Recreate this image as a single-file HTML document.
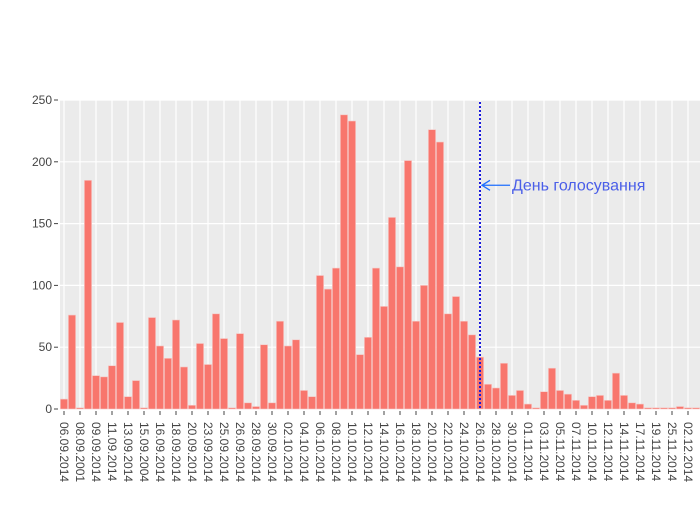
<!DOCTYPE html>
<html><head><meta charset="utf-8">
<style>
html,body{margin:0;padding:0;background:#fff;}
svg text{font-family:"Liberation Sans",sans-serif;}
</style></head>
<body>
<svg id="chart" width="700" height="500" xmlns="http://www.w3.org/2000/svg"></svg>
<script>
const labels = ["06.09.2014","08.09.2001","09.09.2014","11.09.2014","13.09.2014","15.09.2004","16.09.2014","18.09.2014","20.09.2014","23.09.2014","25.09.2014","26.09.2014","28.09.2014","30.09.2014","02.10.2014","04.10.2014","06.10.2014","08.10.2014","10.10.2014","12.10.2014","14.10.2014","16.10.2014","18.10.2014","20.10.2014","22.10.2014","24.10.2014","26.10.2014","28.10.2014","30.10.2014","01.11.2014","03.11.2014","05.11.2014","07.11.2014","10.11.2014","12.11.2014","14.11.2014","17.11.2014","19.11.2014","25.11.2014","02.12.2014"];
const values = [8,76,1,185,27,26,35,70,10,23,1,74,51,41,72,34,3,53,36,77,57,1,61,5,2,52,5,71,51,56,15,10,108,97,114,238,233,44,58,114,83,155,115,201,71,100,226,216,77,91,71,60,42,20,17,37,11,15,4,1,14,33,15,12,7,3,10,11,7,29,11,5,4,1,1,1,1,2,1,1];
const yTicks = [0,50,100,150,200,250];
const voteIndex = 52;
const annotationText = "День голосування";
const annotationValue = 181;

const NS="http://www.w3.org/2000/svg";
const svg=document.getElementById('chart');
const L=60,R=700,T=100,B=409,yMax=250;
const n=values.length;
const step=(R-L)/n;
const x=i=>L+step*(i+0.5);
const y=v=>B-(v/yMax)*(B-T);
function mk(tag,attrs,parent){const e=document.createElementNS(NS,tag);for(const k in attrs)e.setAttribute(k,attrs[k]);(parent||svg).appendChild(e);return e;}

const bg=mk('rect',{x:L,y:T,width:R-L,height:B-T,fill:'#ebebeb'});



yTicks.forEach(t=>{
  const g=mk('line',{x1:L,x2:R,y1:y(t),y2:y(t),stroke:'#fff','stroke-width':1.2});
  
  
  const tk=mk('line',{x1:54,x2:58,y1:y(t),y2:y(t),stroke:'#444','stroke-width':1});
  
  
  const tx=mk('text',{x:52,y:y(t)+4,'text-anchor':'end','font-size':12,fill:'#444'});
  tx.textContent=t;
  
  
});

labels.forEach((lab,k)=>{
  const i=k*2;
  const g=mk('line',{x1:x(i),x2:x(i),y1:T,y2:B,stroke:'#fff','stroke-width':1.2});
  
  
});

const categories=[];
for(let i=0;i<n;i++){categories.push(i%2===0?labels[i/2]:'c'+i);}

values.forEach((v,i)=>{
  const r=mk('rect',{x:x(i)-step*0.45,y:y(v),width:step*0.9,height:B-y(v),fill:'#f8766d',stroke:'#f5c9c6','stroke-width':0.6});
  
  
});

labels.forEach((lab,k)=>{
  const i=k*2;
  const tk=mk('line',{x1:x(i),x2:x(i),y1:411,y2:415,stroke:'#444','stroke-width':1});
  
  
  const tx=mk('text',{x:0,y:0,'font-size':12,fill:'#444',transform:'translate('+(x(i)-4)+',422) rotate(90)'});
  tx.textContent=lab;
  
  
});

const vx=x(voteIndex);
const vl=mk('line',{x1:vx,x2:vx,y1:T+2,y2:B,stroke:'#1a1adb','stroke-width':2,'stroke-dasharray':'2,2'});



const ay=y(annotationValue);
const ar=mk('line',{x1:vx+30,x2:vx+2,y1:ay,y2:ay,stroke:'#1f6fff','stroke-width':1.3});


const ah=mk('path',{d:'M'+(vx+10)+','+(ay-5)+' L'+(vx+2)+','+ay+' L'+(vx+10)+','+(ay+5),fill:'none',stroke:'#1f6fff','stroke-width':1.3});


const at=mk('text',{x:vx+32,y:ay+5,'font-size':16,fill:'#4a5ee8'});
at.textContent=annotationText;


</script>
</body></html>
